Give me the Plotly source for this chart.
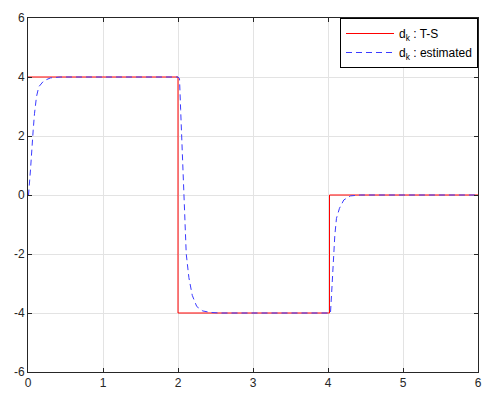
import plotly.graph_objects as go

# True T-S disturbance (step profile)
ts_t = [0, 2.0, 2.0, 4.02, 4.02, 6]
ts_d = [4, 4, -4, -4, 0, 0]

# Estimated disturbance
est_t = [0, 0.007, 0.033, 0.056, 0.069, 0.087, 0.113, 0.144, 0.21, 0.3, 0.43,
         2.0, 2.02, 2.035, 2.05, 2.06, 2.07, 2.085, 2.11, 2.145, 2.19, 2.25, 2.33, 2.43, 2.55,
         4.02, 4.033, 4.047, 4.064, 4.077, 4.091, 4.113, 4.153, 4.21, 4.3, 4.43, 6]
est_d = [0, 0, 0.85, 1.53, 2.2, 2.77, 3.33, 3.67, 3.87, 3.97, 4.0,
         4.0, 3.95, 2.9, 1.9, 1.1, 0.2, -0.8, -2.0, -2.8, -3.4, -3.78, -3.93, -3.98, -4.0,
         -4.0, -4.0, -3.39, -2.49, -2.01, -1.36, -0.79, -0.45, -0.17, -0.03, 0, 0]

x_ticks = [0, 1, 2, 3, 4, 5, 6]
x_labels = ["0", "1", "2", "3", "4", "5", "6"]
y_ticks = [-6, -4, -2, 0, 2, 4, 6]
y_labels = ["-6", "-4", "-2", "0", "2", "4", "6"]

fig = go.Figure()
fig.add_trace(go.Scatter(x=ts_t, y=ts_d, mode="lines", name="d<sub>k</sub> : T-S",
                         line=dict(color="#ff0000", width=1)))
fig.add_trace(go.Scatter(x=est_t, y=est_d, mode="lines", name="d<sub>k</sub> : estimated",
                         line=dict(color="#3b3bff", width=1, dash="6px,4px")))

axis_common = dict(showgrid=True, gridcolor="#e3e3e3", gridwidth=1,
                   showline=True, linecolor="#262626", linewidth=1, mirror="ticks",
                   ticks="inside", ticklen=4, tickcolor="#262626", zeroline=False,
                   automargin=False,
                   tickfont=dict(family="Liberation Sans, Arial", size=12, color="#262626"))

fig.update_xaxes(range=[0, 6], tickvals=x_ticks, ticktext=x_labels, **axis_common)
fig.update_yaxes(range=[-6, 6], tickvals=y_ticks, ticktext=y_labels, **axis_common)

fig.update_layout(
    width=484, height=398,
    margin=dict(l=20, r=14, t=10, b=34, autoexpand=False),
    paper_bgcolor="white", plot_bgcolor="white",
    font=dict(family="Liberation Sans, Arial", size=12, color="#000000"),
    legend=dict(x=1, y=1, xanchor="right", yanchor="top",
                bordercolor="#000000", borderwidth=1, bgcolor="white",
                font=dict(size=12), itemwidth=48, tracegroupgap=0),
    showlegend=True,
)

fig.write_html("out.html")
